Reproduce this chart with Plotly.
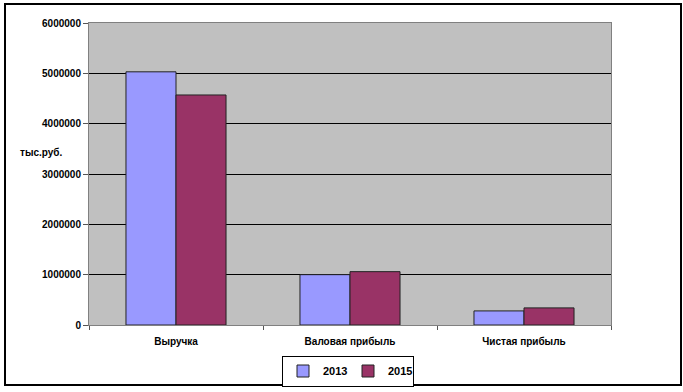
import plotly.graph_objects as go

categories = ["Выручка", "Валовая прибыль", "Чистая прибыль"]
values_2013 = [5030000, 1000000, 280000]
values_2015 = [4570000, 1060000, 340000]
series_names = ["2013", "2015"]
y_ticks = [0, 1000000, 2000000, 3000000, 4000000, 5000000, 6000000]

W, H = 683, 392
L, R, T, B = 89, 611, 23, 325

def px(x):
    return (x - L) / (R - L)

def py(y):
    return (B - y) / (B - T)

font_bold = dict(family="Liberation Sans, Arial", size=10, color="black", weight="bold")

fig = go.Figure()
fig.add_trace(go.Bar(x=categories, y=values_2013, name=series_names[0],
                     marker=dict(color="#9999FF", line=dict(color="#222222", width=1))))
fig.add_trace(go.Bar(x=categories, y=values_2015, name=series_names[1],
                     marker=dict(color="#993366", line=dict(color="#222222", width=1))))

fig.update_layout(
    width=W, height=H,
    margin=dict(l=L, r=W - R, t=T, b=H - B, pad=0, autoexpand=False),
    paper_bgcolor="white",
    plot_bgcolor="#C0C0C0",
    barmode="group",
    bargap=0.425,
    bargroupgap=0,
    font=font_bold,
    showlegend=True,
    legend=dict(orientation="h", xref="container", yref="container",
                x=348 / W, y=1 - 371 / H, xanchor="center", yanchor="middle",
                bordercolor="black", borderwidth=1, bgcolor="white",
                font=dict(family="Liberation Sans, Arial", size=11, color="black", weight="bold"),
                itemwidth=30, entrywidth=20, entrywidthmode="pixels", tracegroupgap=0),
    xaxis=dict(showgrid=False, tickson="boundaries", ticks="outside", ticklen=4,
               tickcolor="#555555", showline=True, linecolor="#808080", linewidth=1,
               mirror=True, tickfont=font_bold, automargin=False, ticklabelstandoff=7),
    yaxis=dict(range=[0, 6000000], tickvals=y_ticks, tickformat="d",
               showgrid=True, gridcolor="black", gridwidth=1,
               ticks="outside", ticklen=5, tickcolor="#555555",
               showline=True, linecolor="#808080", linewidth=1, mirror=True,
               zeroline=False, tickfont=font_bold, automargin=False),
    annotations=[dict(text="тыс.руб.", xref="paper", yref="paper", x=px(41), y=py(152),
                      showarrow=False, font=font_bold, xanchor="center", yanchor="middle")],
    shapes=[dict(type="rect", xref="paper", yref="paper",
                 x0=px(5), x1=px(681), y0=py(385), y1=py(4),
                 line=dict(color="black", width=2))],
)

fig.write_html("out.html", config={"displayModeBar": False},
               post_script="document.body.style.margin='0';document.body.style.overflow='hidden';")
